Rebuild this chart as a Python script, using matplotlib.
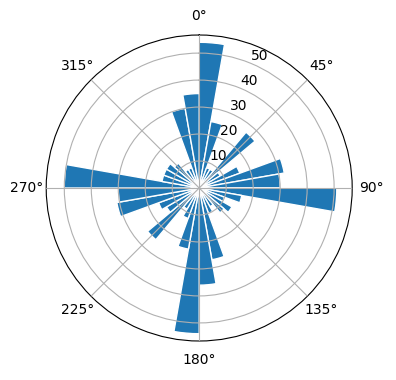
import numpy as np
import matplotlib
matplotlib.use("Agg")
import matplotlib.pyplot as plt

# bin start angles in degrees (10-degree bins)
directions_deg = list(range(0, 360, 10))
counts = [54, 25, 8, 8, 27, 9, 16, 32, 30,
          51, 16, 10, 14, 12, 8, 10, 27, 36,
          54, 23, 12, 9, 25, 14, 16, 31, 30,
          50, 14, 14, 14, 12, 8, 8, 30, 35]

fig = plt.figure(figsize=(3.96, 3.8), dpi=100)
ax = fig.add_axes([0.1167, 0.1026, 0.7727, 0.8053], projection='polar')
ax.set_theta_zero_location('N')
ax.set_theta_direction(-1)

theta = np.deg2rad(directions_deg)
width = np.deg2rad(10)
ax.bar(theta, counts, width=width, align='edge', color='#1f77b4', edgecolor='white', linewidth=1)
ax.grid(True)
ax.set_axisbelow(False)

fig.savefig('out.png', dpi=100)
